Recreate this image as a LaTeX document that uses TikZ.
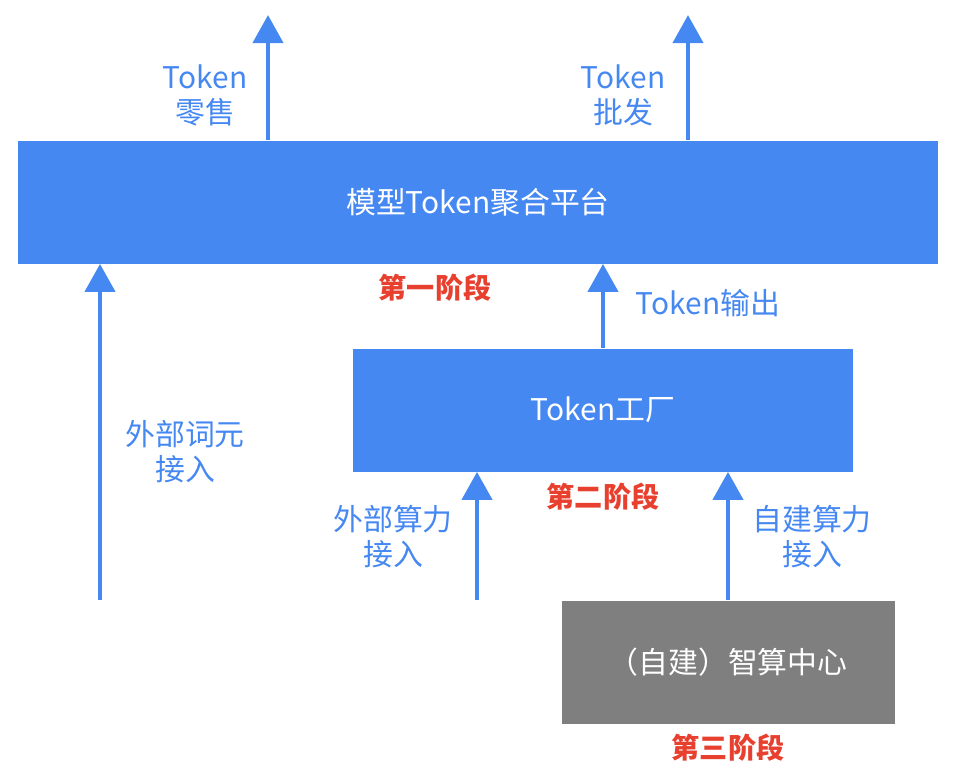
\documentclass[tikz,border=0pt]{standalone}
\usepackage{fontspec}
\newfontfamily\cjk{Noto Sans CJK SC}
\usetikzlibrary{arrows.meta,positioning}
\definecolor{boxblue}{HTML}{4688F1}
\definecolor{boxgray}{HTML}{7F7F7F}
\definecolor{stagered}{HTML}{E8402F}
\begin{document}
\begin{tikzpicture}[x=0.02cm,y=-0.02cm]
\tikzset{
    box/.style={fill=boxblue, draw=none, text=white, font=\cjk\fontsize{17}{20}\selectfont},
    flow/.style={line width=2.8pt, color=boxblue, -{Triangle[width=17pt,length=16pt]}},
    lbl/.style={text=boxblue, font=\cjk\fontsize{17}{20}\selectfont, align=center, inner sep=0pt},
    stage/.style={text=stagered, font=\cjk\bfseries\fontsize{16}{19}\selectfont}}
\useasboundingbox (0,0) rectangle (960,779);

% boxes
\node[box, minimum width=920*0.02cm, minimum height=123*0.02cm] (plat) at (478,202) {模型Token聚合平台};
\node[box, minimum width=500*0.02cm, minimum height=123*0.02cm] (fab) at (603,410) {Token工厂};
\node[box, fill=boxgray, minimum width=333*0.02cm, minimum height=123*0.02cm] (ctr) at (728,662) {（自建）智算中心};

% free ends
\coordinate (retail) at (268,15);
\coordinate (whole) at (688,15);
\coordinate (tokin) at (100,600);
\coordinate (cmpin) at (477,600);

% arrows
\draw[flow] (plat.north -| retail) -- (retail);
\draw[flow] (plat.north -| whole) -- (whole);
\draw[flow] (tokin) -- (plat.south -| tokin);
\draw[flow] (fab.north) -- (plat.south -| fab.north);
\draw[flow] (cmpin) -- (fab.south -| cmpin);
\draw[flow] (ctr.north) -- (fab.south -| ctr.north);

% labels
\node[lbl] (lretail) at (205,95) {Token\\零售};
\node[lbl] (lwhole) at (623,95) {Token\\批发};
\node[lbl] (ltokin) at (185,452) {外部词元\\接入};
\node[lbl] (lout) at (708,303) {Token输出};
\node[lbl] (lcmpin) at (393,537) {外部算力\\接入};
\node[lbl] (lself) at (812,537) {自建算力\\接入};

% stages
\node[stage] (s1) at (435,288) {第一阶段};
\node[stage] (s2) at (603,497) {第二阶段};
\node[stage] (s3) at (728,748) {第三阶段};
\end{tikzpicture}
\end{document}
